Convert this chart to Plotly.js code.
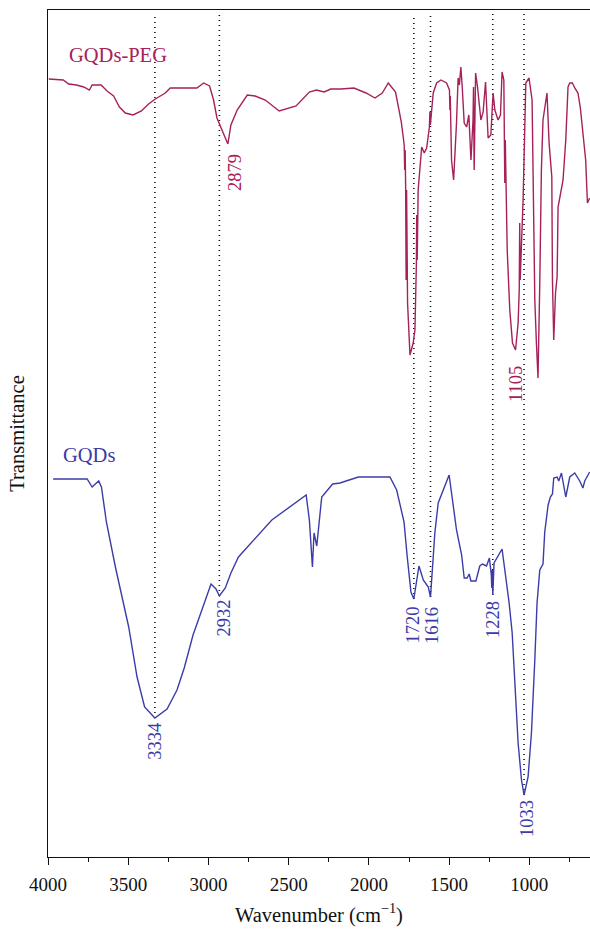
<!DOCTYPE html>
<html>
<head>
<meta charset="utf-8">
<script src="https://cdn.plot.ly/plotly-3.0.1.min.js"></script>
<style>html,body{margin:0;padding:0;background:#fff;}#chart{width:590px;height:932px;}</style>
</head>
<body>
<div id="chart"></div>
<script>
// GQDs-PEG spectrum (wavenumber, transmittance a.u.)
const pegWn = [3995,3905,3871,3823,3777,3742,3725,3669,3632,3591,3555,3518,3470,3418,3373,3331,3269,3238,3072,3030,2993,2968,2947,2916,2879,2860,2821,2758,2709,2646,2559,2454,2371,2327,2279,2238,2174,2093,2018,1962,1917,1879,1834,1798,1780,1777,1774,1771,1768,1765,1763,1759,1744,1724,1713,1707,1704,1702,1699,1693,1671,1655,1640,1623,1620,1617,1599,1578,1551,1516,1498,1495,1493,1485,1472,1454,1444,1436,1427,1419,1406,1391,1377,1364,1351,1348,1344,1335,1323,1302,1288,1273,1257,1240,1226,1215,1195,1180,1170,1159,1155,1153,1150,1138,1122,1105,1086,1070,1063,1060,1057,1039,1022,1002,983,974,966,956,946,935,925,915,904,890,877,860,856,848,837,827,821,790,773,759,748,732,717,697,682,669,649,638,624];
const pegT = [778,777,773,772,770,767,772,772,766,761,750,744,742,746,753,758,764,769,769,774,771,757,739,727,713,732,747,762,761,757,746,751,765,767,765,768,768,769,764,759,764,774,765,735,712,687,707,671,577,667,567,554,502,514,527,567,594,642,597,667,710,704,709,730,745,732,764,774,777,774,767,747,761,697,677,734,779,772,790,772,734,730,742,697,737,770,687,784,770,737,745,775,719,722,764,747,737,742,785,777,737,674,717,607,547,514,507,534,567,634,577,657,774,779,757,674,557,514,479,574,687,737,750,764,714,680,577,517,564,580,650,677,717,770,774,774,769,764,749,730,697,654,659];

// GQDs spectrum
const gqdWn = [3968,3756,3725,3684,3667,3636,3580,3497,3445,3398,3334,3258,3196,3151,3096,3040,2984,2953,2932,2895,2860,2813,2605,2391,2371,2352,2342,2325,2294,2226,2180,2066,1869,1827,1781,1761,1738,1720,1688,1661,1645,1630,1616,1589,1568,1500,1454,1422,1406,1388,1375,1364,1333,1309,1292,1267,1249,1237,1234,1231,1228,1225,1220,1170,1126,1107,1091,1070,1049,1033,1008,987,966,952,935,915,904,883,869,856,848,827,817,800,773,748,717,686,666,655,624];
const gqdT = [378,378,370,376,370,335,290,230,180,150,139,148,167,189,222,247,273,268,261,269,284,300,337,362,337,290,324,311,360,373,374,380,380,367,335,300,265,258,291,277,273,270,260,324,354,382,327,302,279,279,283,276,276,291,293,291,299,282,269,287,262,277,294,308,254,224,174,114,77,62,80,124,197,254,287,293,325,352,360,363,379,380,376,384,360,380,384,376,369,376,385];

// Marked bands (dotted guide lines end on the GQDs curve)
const bandWn = [3334, 2932, 1720, 1616, 1228, 1033];
const bandT  = [139, 261, 258, 260, 262, 62];
const bandLabels = ["3334","2932","1720","1616","1228","1033"];
const pegLabels = ["2879","1105"];
const seriesNames = ["GQDs-PEG","GQDs"];

const PEG_C = '#a6215a';
const GQD_C = '#3b3ca8';
const FONT = 'Liberation Serif, Times New Roman, serif';

const traces = [
  {x: pegWn, y: pegT, type:'scatter', mode:'lines', line:{color:PEG_C, width:1.4}, hoverinfo:'skip', showlegend:false},
  {x: gqdWn, y: gqdT, type:'scatter', mode:'lines', line:{color:GQD_C, width:1.4}, hoverinfo:'skip', showlegend:false}
];

const shapes = bandWn.map((w,i)=>({
  type:'line', xref:'x', yref:'y', x0:w, x1:w, y0:bandT[i], y1:843,
  line:{color:'#111', width:1.6, dash:'1px,4px'}, layer:'below'
}));

// label positions (layout)
const gqdLabelPos = [[3334,116],[2906,239],[1728,232],[1607,232],[1227,238],[1014,38]];
const pegLabelPos = [[2834,684],[1083,473]];

const annotations = [];
bandLabels.forEach((t,i)=>annotations.push({
  x:gqdLabelPos[i][0], y:gqdLabelPos[i][1], xref:'x', yref:'y', text:t, showarrow:false,
  textangle:-90, font:{family:FONT, size:18.5, color:GQD_C}
}));
pegLabels.forEach((t,i)=>annotations.push({
  x:pegLabelPos[i][0], y:pegLabelPos[i][1], xref:'x', yref:'y', text:t, showarrow:false,
  textangle:-90, font:{family:FONT, size:18.5, color:PEG_C}
}));
annotations.push({x:3565, y:802, xref:'x', yref:'y', text:seriesNames[0], showarrow:false, font:{family:FONT, size:20.5, color:PEG_C}});
annotations.push({x:3743, y:402, xref:'x', yref:'y', text:seriesNames[1], showarrow:false, font:{family:FONT, size:20.5, color:GQD_C}});

const layout = {
  width:590, height:932,
  margin:{l:48, r:0, t:10, b:75},
  paper_bgcolor:'#fff', plot_bgcolor:'#fff',
  font:{family:FONT, color:'#111'},
  showlegend:false,
  hovermode:false,
  xaxis:{
    range:[4000, 622], autorange:false,
    tickvals:[4000,3500,3000,2500,2000,1500,1000],
    ticks:'outside', ticklen:7, tickwidth:1, tickcolor:'#111',
    ticklabelstandoff:3,
    minor:{tickvals:[3750,3250,2750,2250,1750,1250,750], ticks:'outside', ticklen:4, tickcolor:'#111'},
    showline:true, linecolor:'#111', linewidth:1.3, mirror:true,
    showgrid:false, zeroline:false,
    tickfont:{family:FONT, size:19, color:'#111'},
    title:{text:'Wavenumber (cm<sup>−1</sup>)', font:{family:FONT, size:20.5, color:'#111'}, standoff:13}
  },
  yaxis:{
    range:[0, 847], autorange:false,
    showticklabels:false, ticks:'',
    showline:true, linecolor:'#111', linewidth:1.3,
    showgrid:false, zeroline:false,
    title:{text:'Transmittance', font:{family:FONT, size:20.5, color:'#111'}, standoff:16}
  },
  shapes:shapes,
  annotations:annotations
};

Plotly.newPlot('chart', traces, layout, {staticPlot:true, displayModeBar:false});
</script>
</body>
</html>
